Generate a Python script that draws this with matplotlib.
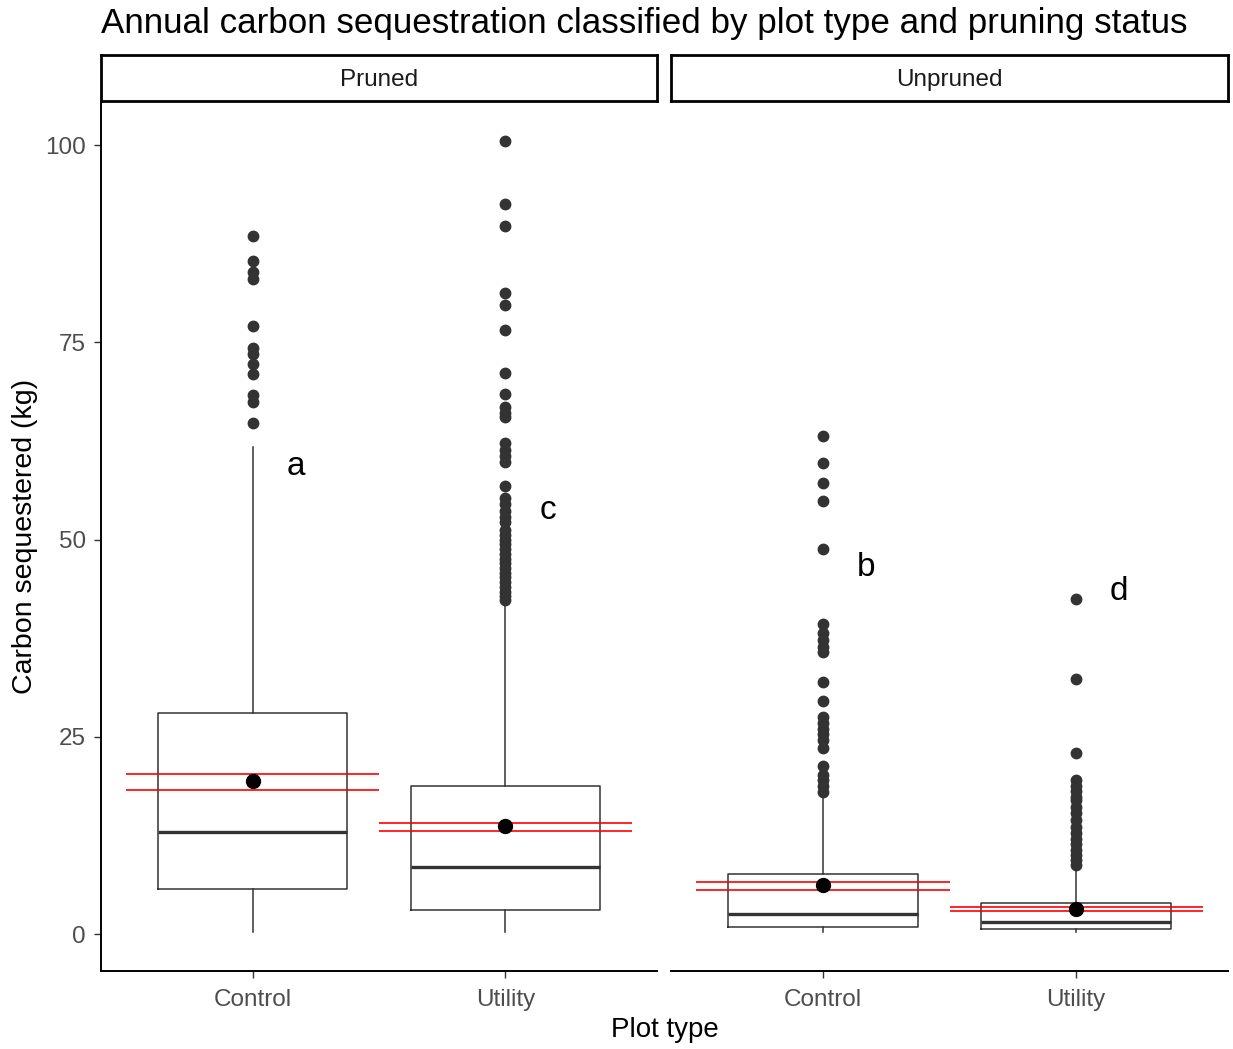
import matplotlib
matplotlib.use('Agg')
import matplotlib.pyplot as plt

plt.rcParams['font.family'] = ['Liberation Sans', 'DejaVu Sans']

# carbon sequestered per tree (kg), summary per facet and plot type
facets = ['Pruned', 'Unpruned']
plot_types = ['Control', 'Utility']

q1 = {'Pruned': [5.7, 3.1], 'Unpruned': [0.85, 0.6]}
median = {'Pruned': [12.9, 8.45], 'Unpruned': [2.5, 1.55]}
q3 = {'Pruned': [28.0, 18.8], 'Unpruned': [7.6, 3.9]}
whisk_lo = {'Pruned': [0.2, 0.2], 'Unpruned': [0.25, 0.3]}
whisk_hi = {'Pruned': [61.8, 42.0], 'Unpruned': [17.8, 8.7]}
mean = {'Pruned': [19.4, 13.7], 'Unpruned': [6.2, 3.2]}
ci_lo = {'Pruned': [18.3, 13.1], 'Unpruned': [5.6, 2.9]}
ci_hi = {'Pruned': [20.3, 14.1], 'Unpruned': [6.6, 3.4]}

outliers = {
    'Pruned': [
        [88.5, 85.3, 83.9, 83.0, 77.1, 74.3, 73.5, 72.2, 71.0, 68.3, 67.4, 64.8],
        [100.5, 92.5, 89.7, 81.2, 79.7, 76.6, 71.1, 68.4, 66.8, 66.0, 65.5,
         62.2, 61.4, 60.6, 59.8, 56.8, 55.3, 54.5, 53.6, 52.9, 52.2, 51.2,
         50.6, 50.0, 49.4, 48.8, 48.2, 47.6, 47.0, 46.4, 45.8, 45.2, 44.6,
         44.0, 43.4, 42.8, 42.3],
    ],
    'Unpruned': [
        [63.1, 59.7, 57.2, 54.9, 48.8, 39.3, 38.1, 37.3, 36.4, 35.7, 31.9,
         29.5, 27.5, 26.7, 26.0, 25.3, 24.6, 23.6, 21.3, 20.2, 19.5, 18.7, 18.0],
        [42.5, 32.3, 22.9, 19.5, 18.8, 18.1, 17.4, 17.0, 16.1, 15.3, 14.5,
         13.6, 12.8, 12.1, 11.4, 10.7, 10.0, 9.4, 8.8],
    ],
}

# letters from the post-hoc comparison
letters = {'Pruned': ['a', 'c'], 'Unpruned': ['b', 'd']}
letter_y = {'Pruned': [59.3, 53.7], 'Unpruned': [46.4, 43.4]}

W, H = 1233, 1049
fig = plt.figure(figsize=(W / 100, H / 100), dpi=100)

panel_x = [(101, 657), (671, 1228)]
top, bottom = 101, 971
grey = '#333333'

for i, facet in enumerate(facets):
    x0, x1 = panel_x[i]
    ax = fig.add_axes([x0 / W, 1 - bottom / H, (x1 - x0) / W, (bottom - top) / H])
    strip = fig.add_axes([x0 / W, 1 - top / H, (x1 - x0) / W, 46 / H])
    strip.set_xticks([])
    strip.set_yticks([])
    for s in strip.spines.values():
        s.set_linewidth(2.0)
        s.set_color('black')
    strip.text(0.5, 0.45, facet, ha='center', va='center', fontsize=17.5, color='#1A1A1A')

    stats = []
    for j, pt in enumerate(plot_types):
        stats.append(dict(label=pt, med=median[facet][j], q1=q1[facet][j], q3=q3[facet][j],
                          whislo=whisk_lo[facet][j], whishi=whisk_hi[facet][j],
                          fliers=outliers[facet][j]))
    pos = [1, 2]
    ax.bxp(stats, positions=pos, widths=0.75, showcaps=False,
           boxprops=dict(color=grey, linewidth=1.1),
           whiskerprops=dict(color=grey, linewidth=1.1),
           medianprops=dict(color=grey, linewidth=2.4),
           flierprops=dict(marker='o', markerfacecolor=grey, markeredgecolor=grey,
                           markersize=7.5, linestyle='none'))

    for j in range(2):
        ax.hlines([ci_lo[facet][j], ci_hi[facet][j]], pos[j] - 0.5, pos[j] + 0.5,
                  color='red', linewidth=1.2, zorder=4)
        ax.plot(pos[j], mean[facet][j], 'o', color='black', markersize=10, zorder=5)
        ax.text(pos[j] + 0.17, letter_y[facet][j], letters[facet][j],
                fontsize=24, ha='center', va='center', color='black')

    ax.set_xlim(0.4, 2.6)
    ax.set_ylim(-4.69, 105.6)
    ax.set_xticks(pos)
    ax.set_xticklabels(plot_types)
    ax.spines['top'].set_visible(False)
    ax.spines['right'].set_visible(False)
    ax.spines['bottom'].set_linewidth(1.4)
    ax.spines['left'].set_linewidth(1.4)
    ax.tick_params(axis='both', colors=grey, labelcolor='#4D4D4D', labelsize=17.5,
                   length=5, width=1.0)
    ax.tick_params(axis='x', pad=8)
    ax.tick_params(axis='y', pad=6)
    if i == 0:
        ax.set_yticks([0, 25, 50, 75, 100])
    else:
        ax.spines['left'].set_visible(False)
        ax.set_yticks([])

fig.text(101 / W, 1 - 23 / H, 'Annual carbon sequestration classified by plot type and pruning status',
         fontsize=25.2, ha='left', va='center', color='black')
fig.text(665 / W, 1 - 1030 / H, 'Plot type', fontsize=20, ha='center', va='center')
fig.text(25 / W, 1 - 536 / H, 'Carbon sequestered (kg)', fontsize=20.5, rotation=90,
         ha='center', va='center')

fig.savefig('out.png', dpi=100)
